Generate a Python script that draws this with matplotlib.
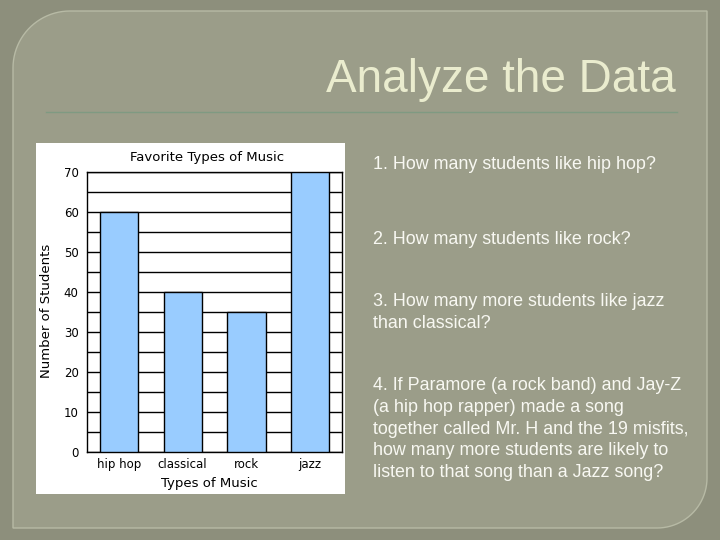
import numpy as np
import matplotlib
matplotlib.use("Agg")
import matplotlib.pyplot as plt
from matplotlib.patches import Polygon, Rectangle

# data
genres = ["hip hop", "classical", "rock", "jazz"]
students = [60, 40, 35, 70]
yticks = [0, 10, 20, 30, 40, 50, 60, 70]

questions = [
    ("1. How many students like hip hop?", 163),
    ("2. How many students like rock?", 238),
    ("3. How many more students like jazz\nthan classical?", 300),
    ("4. If Paramore (a rock band) and Jay-Z\n(a hip hop rapper) made a song\n"
     "together called Mr. H and the 19 misfits,\nhow many more students are likely to\n"
     "listen to that song than a Jazz song?", 384),
]

W, H = 720, 540
fig = plt.figure(figsize=(7.2, 5.4), dpi=100)
fig.patch.set_facecolor("#8d8f7c")

# background slide layer in pixel coords
bg = fig.add_axes([0, 0, 1, 1])
bg.set_xlim(0, W)
bg.set_ylim(H, 0)
bg.axis("off")

# panel with two rounded corners (top-left, bottom-right)
x0, y0, x1, y1 = 13, 11, 707, 528
r1, r2 = 57, 50
t = np.linspace(0, np.pi / 2, 24)
pts = [(x0 + r1, y0), (x1, y0), (x1, y1 - r2)]
pts += [(x1 - r2 + r2 * np.cos(a), y1 - r2 + r2 * np.sin(a)) for a in t]
pts += [(x0, y1), (x0, y0 + r1)]
pts += [(x0 + r1 - r1 * np.cos(a), y0 + r1 - r1 * np.sin(a)) for a in t]
bg.add_patch(Polygon(pts, closed=True, facecolor="#9b9d89", edgecolor="#b7baa5", lw=1))

# title + rule
bg.text(676, 80, "Analyze the Data", ha="right", va="center", fontsize=33,
        color="#eaecce", family="Liberation Sans")
bg.plot([46, 677], [112, 112], color="#7f9a82", lw=1)

# white chart image
bg.add_patch(Rectangle((36, 143), 309, 351, facecolor="white", edgecolor="none"))

bg.text(207, 158, "Favorite Types of Music", ha="center", va="center", fontsize=9.5,
        color="black")
bg.text(209, 484, "Types of Music", ha="center", va="center", fontsize=9.5, color="black")
bg.text(47, 311, "Number of Students", ha="center", va="center", fontsize=9.5,
        rotation=90, color="black")

# questions (y = centre of first line)
for q, y in questions:
    bg.text(373, y - 7, q, ha="left", va="top", fontsize=12.9, color="#f8f8f2",
            family="Liberation Sans", linespacing=1.37)

# chart axes
ax = fig.add_axes([87 / W, (H - 452) / H, 255 / W, 280 / H])
ax.set_facecolor("white")
xs = np.arange(len(genres))
ax.set_axisbelow(True)
ax.yaxis.grid(True, color="black", lw=1)
ax.bar(xs, students, width=0.6, color="#99ccff", edgecolor="black", lw=1, zorder=3)
ax.set_xlim(-0.5, 3.5)
ax.set_ylim(0, 70)
ax.set_yticks(np.arange(0, 71, 5))
ax.set_yticklabels([str(v) if v in yticks else "" for v in np.arange(0, 71, 5)])
ax.set_xticks(xs)
ax.set_xticklabels(genres)
ax.tick_params(axis="both", length=0, labelsize=8.5, colors="black")
ax.tick_params(axis="y", pad=6)
ax.tick_params(axis="x", pad=4)
for s in ax.spines.values():
    s.set_color("black")
    s.set_linewidth(1)

fig.savefig("out.png", dpi=100, facecolor=fig.get_facecolor())
